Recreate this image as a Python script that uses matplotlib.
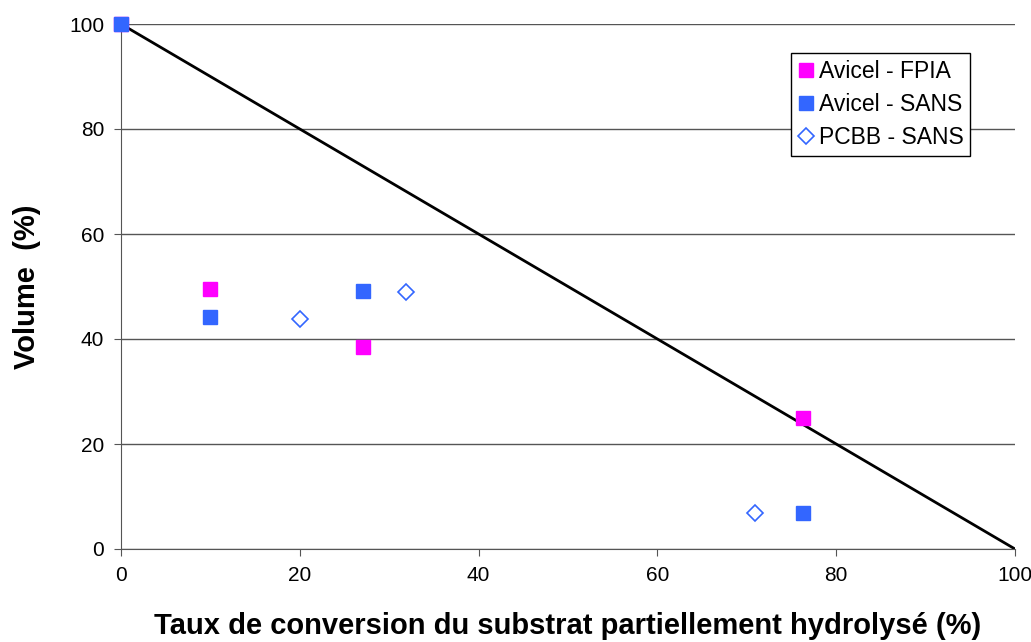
import numpy as np
import matplotlib.pyplot as plt

plt.rcParams['font.family'] = ['Liberation Sans', 'DejaVu Sans']

# donnees
x_fpia = [0, 10, 27.1, 76.3]
y_fpia = [100, 49.5, 38.5, 24.9]
x_sans = [0, 10, 27.1, 76.3]
y_sans = [100, 44.1, 49.1, 6.9]
x_pcbb = [20.0, 31.9, 70.9]
y_pcbb = [43.9, 49.0, 6.9]
x_line = [0, 100]
y_line = [100, 0]

fig = plt.figure(figsize=(10.31, 6.42), dpi=100)
ax = fig.add_axes([121/1031, 1-549/642, (1015-121)/1031, (549-24)/642])

ax.plot(x_line, y_line, color='black', lw=2, zorder=2)
ax.plot(x_fpia, y_fpia, 's', color='#ff00ff', ms=10, ls='none', label='Avicel - FPIA', zorder=3, clip_on=False)
ax.plot(x_sans, y_sans, 's', color='#3366ff', ms=10, ls='none', label='Avicel - SANS', zorder=4, clip_on=False)
ax.plot(x_pcbb, y_pcbb, 'D', mfc='white', mec='#3366ff', mew=1.2, ms=8, ls='none', label='PCBB - SANS', zorder=4)

ax.set_xlim(0, 100)
ax.set_ylim(0, 100)
ax.set_xticks(np.arange(0, 101, 20))
ax.set_yticks(np.arange(0, 101, 20))
ax.yaxis.grid(True, color='#555555', lw=1)
ax.set_axisbelow(True)
for s in ['top', 'right']:
    ax.spines[s].set_visible(False)
for s in ['left', 'bottom']:
    ax.spines[s].set_color('#555555')
ax.tick_params(labelsize=15, direction='out', length=5, color='#555555', pad=7)

ax.set_xlabel('Taux de conversion du substrat partiellement hydrolysé (%)', fontsize=21, fontweight='bold', labelpad=20)
ax.set_ylabel('Volume  (%)', fontsize=21, fontweight='bold', labelpad=20)

leg = ax.legend(loc='upper right', bbox_to_anchor=(0.95, 0.945), fontsize=16.5, frameon=True,
                fancybox=False, edgecolor='black', handlelength=0.7, handletextpad=0.2,
                borderpad=0.3, labelspacing=0.45, borderaxespad=0, framealpha=1)
leg.get_frame().set_linewidth(1)

fig.savefig('out.png', dpi=100)
